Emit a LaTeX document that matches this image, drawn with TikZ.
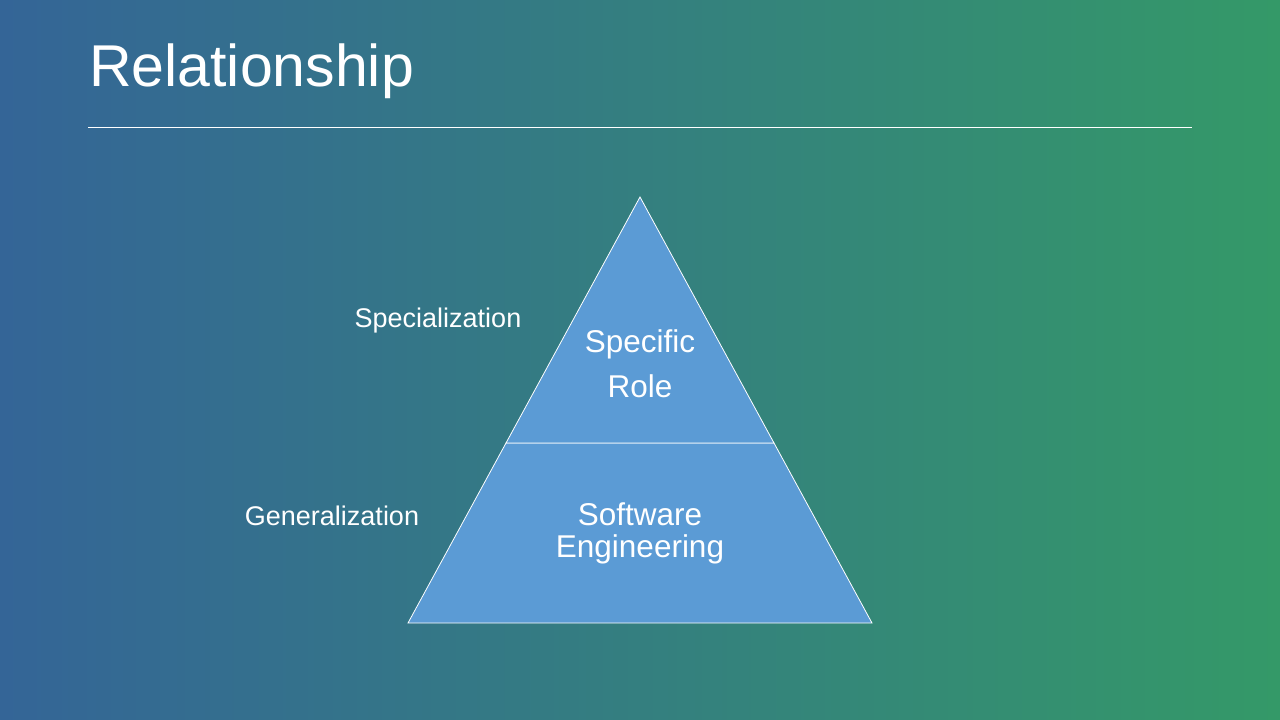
\documentclass[tikz,border=0pt]{standalone}
\usepackage{fontspec}
\setmainfont{Liberation Sans}
\definecolor{bgleft}{RGB}{52,101,151}
\definecolor{bgright}{RGB}{52,153,104}
\definecolor{tierfill}{RGB}{91,155,213}
\begin{document}
\begin{tikzpicture}[x=1pt,y=-1pt,
  label text/.style={text=white,anchor=base,inner sep=0pt,font=\fontsize{27}{32}\selectfont},
  tier text/.style={text=white,anchor=base,inner sep=0pt,font=\fontsize{31.5}{38}\selectfont},
  tier/.style={fill=tierfill,draw=white,line width=0.8pt,line join=miter}]
  % slide background
  \shade[left color=bgleft,right color=bgright] (0,0) rectangle (1280,720);
  \useasboundingbox (0,0) rectangle (1280,720);

  % title and rule
  \node[text=white,anchor=base west,inner sep=0pt,font=\fontsize{59}{70}\selectfont] (title) at (89,86) {Relationship};
  \coordinate (ruleL) at (88,127);
  \coordinate (ruleR) at (1192,127);
  \draw[white,line width=0.8pt] (ruleL) -- (ruleR);

  % pyramid corners
  \coordinate (apex) at (640,197);
  \coordinate (baseL) at (408,623);
  \coordinate (baseR) at (872,623);
  \coordinate (midL) at (506.0,443);
  \coordinate (midR) at (774.0,443);

  % two tiers
  \filldraw[tier] (midL) -- (midR) -- (baseR) -- (baseL) -- cycle;
  \filldraw[tier] (apex) -- (midR) -- (midL) -- cycle;

  % tier texts
  \node[tier text] (specific) at (640,352) {Specific};
  \node[tier text] (role) at (640,397) {Role};
  \node[tier text] (software) at (640,525) {Software};
  \node[tier text] (engineering) at (640,557) {Engineering};

  % side labels
  \node[label text] (spec) at (438,327) {Specialization};
  \node[label text] (gen) at (332,525) {Generalization};
\end{tikzpicture}
\end{document}
